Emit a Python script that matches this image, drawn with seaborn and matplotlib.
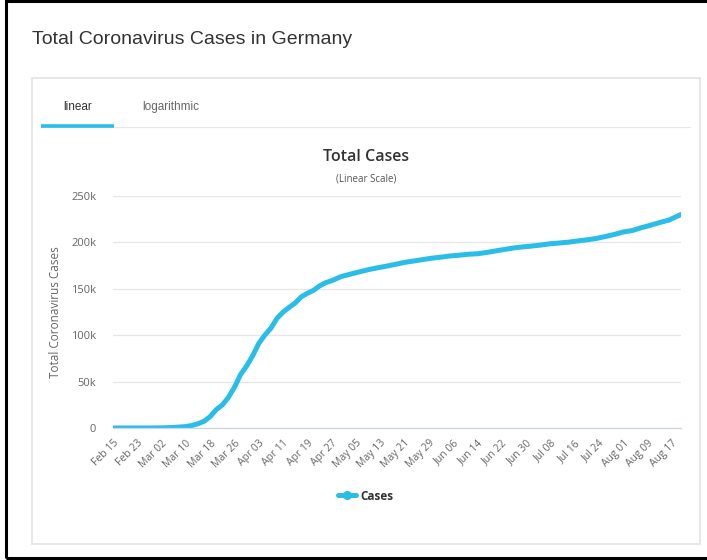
import matplotlib
matplotlib.use("Agg")
import matplotlib.pyplot as plt
import matplotlib.dates as mdates
from matplotlib.lines import Line2D
from matplotlib.patches import Rectangle
import pandas as pd
import seaborn as sns

# ---- data ----
dates = ["2020-02-15", "2020-02-20", "2020-02-25", "2020-02-28", "2020-03-02", "2020-03-05",
         "2020-03-08", "2020-03-10", "2020-03-12", "2020-03-14", "2020-03-16", "2020-03-18",
         "2020-03-20", "2020-03-22", "2020-03-24", "2020-03-26", "2020-03-28", "2020-03-30",
         "2020-04-01", "2020-04-03", "2020-04-05", "2020-04-07", "2020-04-09", "2020-04-11",
         "2020-04-13", "2020-04-15", "2020-04-17", "2020-04-19", "2020-04-21", "2020-04-23",
         "2020-04-25", "2020-04-27", "2020-04-30", "2020-05-03", "2020-05-06", "2020-05-09",
         "2020-05-12", "2020-05-15", "2020-05-18", "2020-05-21", "2020-05-24", "2020-05-27",
         "2020-05-30", "2020-06-02", "2020-06-05", "2020-06-08", "2020-06-11", "2020-06-14",
         "2020-06-17", "2020-06-20", "2020-06-23", "2020-06-26", "2020-06-29", "2020-07-02",
         "2020-07-05", "2020-07-08", "2020-07-11", "2020-07-14", "2020-07-17", "2020-07-20",
         "2020-07-23", "2020-07-26", "2020-07-29", "2020-08-01", "2020-08-04", "2020-08-07",
         "2020-08-10", "2020-08-13", "2020-08-16", "2020-08-19", "2020-08-20"]
cases = [16, 16, 18, 48, 159, 482,
         1040, 1565, 2745, 4599, 7272, 12327,
         19848, 24873, 32991, 43938, 57695, 66885,
         77981, 91159, 100123, 107663, 118181, 124908,
         130072, 134753, 141397, 145184, 148291, 153129,
         156513, 158758, 163009, 165664, 168162, 170588,
         172576, 174355, 176369, 178473, 179986, 181482,
         183019, 184121, 185416, 186205, 187226, 187764,
         189135, 190862, 192480, 194036, 195228, 196096,
         197198, 198556, 199375, 200260, 201574, 202799,
         204183, 206242, 208546, 211220, 212828, 215891,
         218519, 221413, 224014, 228621, 230048]
xtick_dates = ["2020-02-15", "2020-02-23", "2020-03-02", "2020-03-10", "2020-03-18", "2020-03-26",
               "2020-04-03", "2020-04-11", "2020-04-19", "2020-04-27", "2020-05-05", "2020-05-13",
               "2020-05-21", "2020-05-29", "2020-06-06", "2020-06-14", "2020-06-22", "2020-06-30",
               "2020-07-08", "2020-07-16", "2020-07-24", "2020-08-01", "2020-08-09", "2020-08-17"]
ytick_values = [0, 50000, 100000, 150000, 200000, 250000]
ytick_labels = ["0", "50k", "100k", "150k", "200k", "250k"]
series_name = "Cases"

df = pd.DataFrame({"date": pd.to_datetime(dates), "cases": cases})

sns.set_theme(style="white")
plt.rcParams["font.family"] = ["Open Sans", "DejaVu Sans"]

W, H = 707, 560
fig = plt.figure(figsize=(W / 100, H / 100), dpi=100)
fig.patch.set_facecolor("white")

def fx(px):
    return px / W

def fy(py):
    return 1 - py / H

# outer black frame (right side falls outside the picture)
fig.patches.append(Rectangle((fx(6), fy(558)), fx(760) - fx(6), fy(1) - fy(558),
                             transform=fig.transFigure, fill=False, edgecolor="black",
                             linewidth=2.2, zorder=0, clip_on=False))
# inner light panel
fig.patches.append(Rectangle((fx(32), fy(544)), fx(700) - fx(32), fy(78) - fy(544),
                             transform=fig.transFigure, fill=False, edgecolor="#e3e3e3",
                             linewidth=1.2, zorder=0))
# tab separator and active underline
fig.add_artist(Line2D([fx(41), fx(690)], [fy(127), fy(127)], transform=fig.transFigure,
                      color="#e8e8e8", linewidth=0.9))
fig.add_artist(Line2D([fx(41), fx(114)], [fy(126), fy(126)], transform=fig.transFigure,
                      color="#2ABDE8", linewidth=2.6, solid_capstyle="butt"))

fig.text(fx(32), fy(40), "Total Coronavirus Cases in Germany", fontsize=14,
         family=["Liberation Sans", "DejaVu Sans"], color="#333333", va="center", ha="left")
fig.text(fx(78), fy(107), "linear", fontsize=8.5, family=["Liberation Sans", "DejaVu Sans"],
         color="#333333", va="center", ha="center")
fig.text(fx(171), fy(107), "logarithmic", fontsize=8.5, family=["Liberation Sans", "DejaVu Sans"],
         color="#666666", va="center", ha="center")
fig.text(fx(366), fy(157), "Total Cases", fontsize=11.5, color="#333333",
         va="center", ha="center", fontweight="semibold")
fig.text(fx(366), fy(179), "(Linear Scale)", fontsize=7, color="#555555",
         va="center", ha="center")

ax = fig.add_axes([fx(113), fy(428), fx(681) - fx(113), fy(196) - fy(428)])
line_color = "#2ABDE8"
sns.lineplot(data=df, x="date", y="cases", ax=ax, color=line_color, linewidth=3.6,
             label=series_name, legend=False)

ax.set_ylim(0, 250000)
ax.set_xlim(pd.Timestamp("2020-02-15"), pd.Timestamp("2020-08-20"))
ax.set_yticks(ytick_values)
ax.set_yticklabels(ytick_labels)
ax.set_xticks(pd.to_datetime(xtick_dates))
ax.xaxis.set_major_formatter(mdates.DateFormatter("%b %d"))
for lbl in ax.get_xticklabels():
    lbl.set_rotation(45)
    lbl.set_ha("right")
    lbl.set_rotation_mode("anchor")
ax.tick_params(axis="x", labelsize=7.5, colors="#666666", length=0, pad=7)
ax.tick_params(axis="y", labelsize=8, colors="#666666", length=0, pad=12)
ax.grid(axis="y", color="#e6e6e6", linewidth=0.9)
ax.set_axisbelow(True)
for s in ["top", "right", "left"]:
    ax.spines[s].set_visible(False)
ax.spines["bottom"].set_color("#ccd6eb")
ax.spines["bottom"].set_linewidth(0.9)
ax.set_xlabel("")
ax.set_ylabel("Total Coronavirus Cases", fontsize=8.5, color="#666666")
ax.yaxis.set_label_coords(-(113 - 62) / (681 - 113), 0.5)

handle = Line2D([], [], color=line_color, linewidth=3.6, marker="o", markersize=5.5)
leg = ax.legend([handle], [series_name], loc="center", frameon=False,
                bbox_to_anchor=(fx(366), fy(496)), bbox_transform=fig.transFigure,
                handlelength=1.5, handletextpad=0.4,
                prop={"weight": "bold", "size": 8.5})
for t in leg.get_texts():
    t.set_color("#333333")

fig.savefig("out.png", dpi=100, facecolor="white")
